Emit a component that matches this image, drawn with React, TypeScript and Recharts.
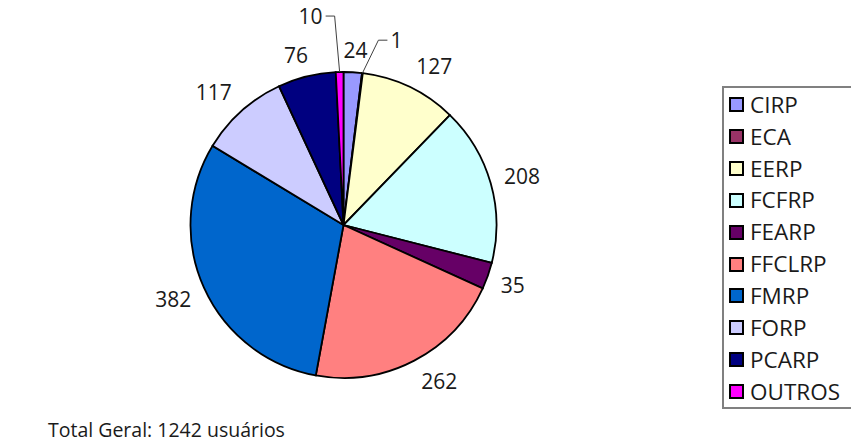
import { PieChart, Pie, Cell, Legend } from "recharts";

const units = ["CIRP", "ECA", "EERP", "FCFRP", "FEARP", "FFCLRP", "FMRP", "FORP", "PCARP", "OUTROS"];
const users = [24, 1, 127, 208, 35, 262, 382, 117, 76, 10];
const colors = ["#9999FF", "#993366", "#FFFFCC", "#CCFFFF", "#660066", "#FF8080", "#0066CC", "#CCCCFF", "#000080", "#FF00FF"];
const totalLabel = "Total Geral: 1242 usuários";

const data = units.map((name, i) => ({ name, value: users[i] }));

// thin slices get a leader line; elbow offset from the rim point
const leaders: Record<string, [number, number]> = { ECA: [16, -33], OUTROS: [-5, -56] };

const RAD = Math.PI / 180;
const FONT = "'Open Sans', 'Noto Sans', sans-serif";
const clamp = (v: number) => Math.max(-1, Math.min(1, v));

function renderLabel(props: any) {
  const { cx, cy, midAngle, outerRadius, value, name } = props;
  const cos = Math.cos(-midAngle * RAD);
  const sin = Math.sin(-midAngle * RAD);
  const text = String(value);
  const lead = leaders[name];
  if (lead) {
    const px = cx + outerRadius * cos;
    const py = cy + outerRadius * sin;
    const ex = px + lead[0];
    const ey = py + lead[1];
    const dir = lead[0] >= 0 ? 1 : -1;
    const hx = ex + dir * 9;
    return (
      <g>
        <polyline points={`${px},${py} ${ex},${ey} ${hx},${ey}`} fill="none" stroke="#404040" strokeWidth={1} />
        <text x={hx + dir * 3} y={ey} textAnchor={dir > 0 ? "start" : "end"} dominantBaseline="central"
          fontFamily={FONT} fontSize={21} fill="#1a1a1a">{text}</text>
      </g>
    );
  }
  // label box sits outside the rim, pushed off by its half size (Excel style)
  const r = outerRadius + 13;
  const halfW = 6.3 * text.length;
  const x = cx + r * cos + halfW * clamp(cos * 2.5);
  const y = cy + r * sin + 9 * clamp(sin * 1.5);
  return (
    <text x={x} y={y} textAnchor="middle" dominantBaseline="central"
      fontFamily={FONT} fontSize={21} fill="#1a1a1a">{text}</text>
  );
}

function LegendBox() {
  return (
    <div style={{ border: "2px solid #808080", width: 140, height: 318, paddingTop: 1, boxSizing: "content-box",
      fontFamily: FONT, fontSize: 22.5, color: "#1a1a1a", background: "#fff" }}>
      {units.map((u, i) => (
        <div key={u} style={{ display: "flex", alignItems: "center", height: 31.85 }}>
          <span style={{ width: 11, height: 11, border: "2px solid #000", background: colors[i], marginLeft: 5, marginRight: 6, flex: "none" }} />
          <span style={{ lineHeight: "24px" }}>{u}</span>
        </div>
      ))}
    </div>
  );
}

export default function App() {
  return (
    <div style={{ position: "absolute", left: 0, top: 0, width: 851, height: 444, background: "#fff", overflow: "hidden" }}>
      <PieChart width={851} height={444} margin={{ top: 0, right: 0, bottom: 0, left: 0 }}>
        <Pie data={data} dataKey="value" nameKey="name" cx={343.5} cy={225} outerRadius={153}
          startAngle={90} endAngle={-270} stroke="#000" strokeWidth={1.8}
          label={renderLabel} labelLine={false} isAnimationActive={false}>
          {data.map((d, i) => <Cell key={d.name} fill={colors[i]} />)}
        </Pie>
        <Legend layout="vertical" align="right" verticalAlign="middle" content={() => <LegendBox />}
          wrapperStyle={{ position: "absolute", left: 722, top: 86, width: 144, height: 321 }} />
      </PieChart>
      <div style={{ position: "absolute", left: 48, top: 416, fontFamily: FONT, fontSize: 19.5, color: "#1a1a1a", whiteSpace: "nowrap" }}>
        {totalLabel}
      </div>
    </div>
  );
}
